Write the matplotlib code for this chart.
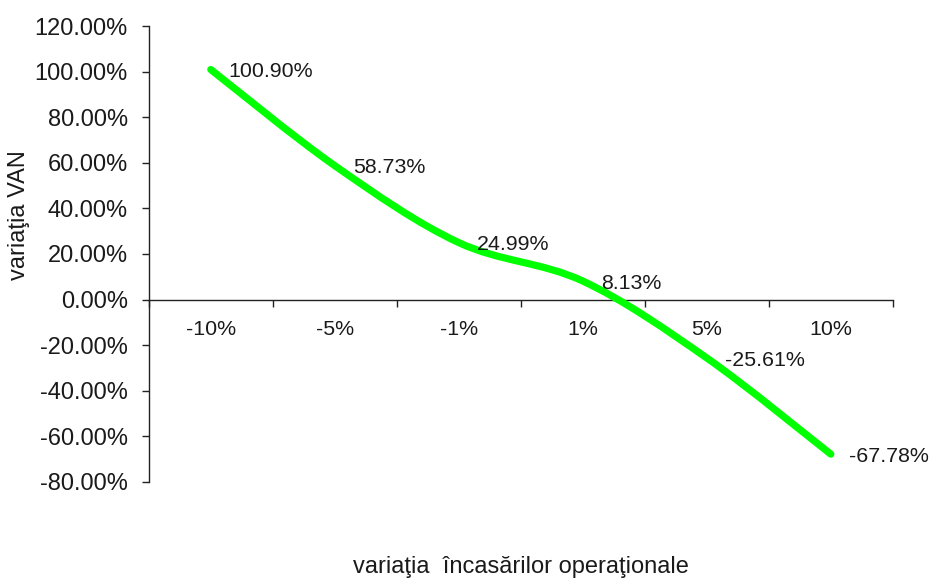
import matplotlib

matplotlib.use("Agg")
import matplotlib.pyplot as plt
import numpy as np
from matplotlib.path import Path
from matplotlib.patches import PathPatch
from matplotlib.ticker import FuncFormatter, FixedLocator

plt.rcParams["font.family"] = ["Liberation Sans", "DejaVu Sans"]

CATEGORIES = ["-10%", "-5%", "-1%", "1%", "5%", "10%"]
VAN_CHANGE = [100.90, 58.73, 24.99, 8.13, -25.61, -67.78]
Y_TICKS = [-80, -60, -40, -20, 0, 20, 40, 60, 80, 100, 120]

LINE_COLOR = "#00FF00"
TEXT_COLOR = "#1a1a1a"
FS_YTICK = 17
FS_XTICK = 15.4
FS_LABEL = 15.4
FS_TITLE = 17


def smooth_path(xs, ys):
    # Excel-style smoothed line: cubic Bezier segments with Catmull-Rom tangents
    pts = np.column_stack([xs, ys]).astype(float)
    n = len(pts)
    verts = [pts[0]]
    codes = [Path.MOVETO]
    for i in range(n - 1):
        p0 = pts[i - 1] if i > 0 else pts[i]
        p1 = pts[i]
        p2 = pts[i + 1]
        p3 = pts[i + 2] if i + 2 < n else pts[i + 1]
        c1 = p1 + (p2 - p0) / 6.0
        c2 = p2 - (p3 - p1) / 6.0
        verts += [c1, c2, p2]
        codes += [Path.CURVE4] * 3
    return Path(verts, codes)


fig = plt.figure(figsize=(9.3, 5.87), dpi=100)
ax = fig.add_axes([0.160, 0.1789, 0.800, 0.7768])

x = np.arange(len(CATEGORIES))
patch = PathPatch(smooth_path(x, VAN_CHANGE), facecolor="none", edgecolor=LINE_COLOR,
                  linewidth=5.2, capstyle="round", joinstyle="round", zorder=3)
ax.add_patch(patch)

for xi, yi in zip(x, VAN_CHANGE):
    ax.annotate(f"{yi:.2f}%", (xi, yi), xytext=(13, -1.5), textcoords="offset points",
                ha="left", va="center", fontsize=FS_LABEL, color=TEXT_COLOR, zorder=4)

ax.set_xlim(-0.5, len(CATEGORIES) - 0.5)
ax.set_ylim(-80, 120)

ax.spines["top"].set_visible(False)
ax.spines["right"].set_visible(False)
ax.spines["bottom"].set_position(("data", 0))
for s in ("left", "bottom"):
    ax.spines[s].set_color("#222222")
    ax.spines[s].set_linewidth(1.0)

ax.set_yticks(Y_TICKS)
ax.yaxis.set_major_formatter(FuncFormatter(lambda v, _: f"{v:.2f}%"))
ax.tick_params(axis="y", direction="out", length=5, width=1.0, color="#222222",
               labelsize=FS_YTICK, labelcolor=TEXT_COLOR, pad=10)

ax.set_xticks(x)
ax.set_xticklabels(CATEGORIES)
ax.xaxis.set_minor_locator(FixedLocator(np.arange(-0.5, len(CATEGORIES), 1.0)))
ax.tick_params(axis="x", which="major", length=0, labelsize=FS_XTICK, labelcolor=TEXT_COLOR, pad=15)
ax.tick_params(axis="x", which="minor", direction="out", length=5, width=1.0, color="#222222")

fig.text(19 / 930, 1 - 215 / 587, "variaţia VAN", rotation=90, ha="center", va="center",
         fontsize=FS_TITLE, color=TEXT_COLOR)
fig.text(521 / 930, 1 - 567 / 587, "variaţia  încasărilor operaţionale", ha="center",
         va="center", fontsize=FS_TITLE, color=TEXT_COLOR)

fig.savefig("out.png", dpi=100)
